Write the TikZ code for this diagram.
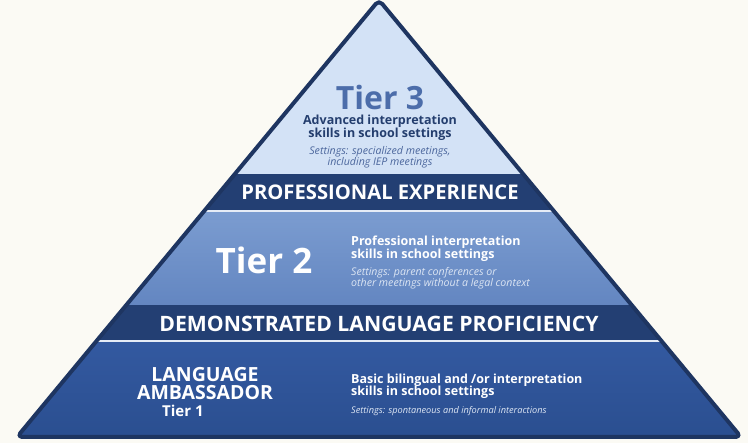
\documentclass[tikz,border=0pt]{standalone}
\usepackage{fontspec}
\setmainfont{Open Sans}
\usetikzlibrary{calc}
\definecolor{paper}{HTML}{FBFAF4}
\definecolor{rim}{HTML}{1E3561}
\definecolor{topFill}{HTML}{D3E2F6}
\definecolor{bandFill}{HTML}{233F73}
\definecolor{seam}{HTML}{E6ECF6}
\definecolor{midTop}{HTML}{7B9CD0}
\definecolor{midBot}{HTML}{6386C1}
\definecolor{lowTop}{HTML}{3359A0}
\definecolor{lowBot}{HTML}{2A4E8F}
\definecolor{titleBlue}{HTML}{4C6DAA}
\definecolor{navyText}{HTML}{243E6E}
\definecolor{noteBlue}{HTML}{4B669C}
\definecolor{softWhite}{HTML}{DCE5F3}
\tikzset{
  pyrEdge/.style={draw=rim, line width=4pt, line join=round, rounded corners=5pt},
  bandLbl/.style={text=white, font=\bfseries\fontsize{20.2}{20.2}\selectfont},
  tierLbl/.style={font=\bfseries\fontsize{32}{32}\selectfont},
  skillLbl/.style={font=\bfseries\fontsize{12.5}{12.5}\selectfont, inner sep=0pt},
  noteLbl/.style={font=\itshape\fontsize{10.6}{11}\selectfont, inner sep=0pt},
  oneLbl/.style={text=white, font=\bfseries\fontsize{19.5}{18}\selectfont, inner sep=0pt},
}
\newcommand{\PyrCorners}{%
  \coordinate (T) at (379,0);
  \coordinate (L) at (17,437);
  \coordinate (R) at (741,437);
}

\begin{document}
\begin{tikzpicture}[x=1pt, y=-1pt]
  \fill[paper] (0,0) rectangle (748,443);
  \useasboundingbox (0,0) rectangle (748,443);
  \PyrCorners

  % layers of the pyramid
  \begin{scope}
    \clip[rounded corners=5pt] (T)--(L)--(R)--cycle;
    \fill[topFill] (0,0) rectangle (748,174);
    \fill[bandFill] (0,174) rectangle (748,210);
    \fill[seam] (0,210) rectangle (748,212.5);
    \shade[top color=midTop, bottom color=midBot] (0,212.5) rectangle (748,305);
    \fill[bandFill] (0,305) rectangle (748,340);
    \fill[seam] (0,340) rectangle (748,342.5);
    \shade[top color=lowTop, bottom color=lowBot] (0,342.5) rectangle (748,443);
  \end{scope}
  \draw[pyrEdge] (T)--(L)--(R)--cycle;

  % tier 3
  \node[tierLbl, text=titleBlue] (t3Title) at (380,98) {Tier 3};
  \node[skillLbl, text=navyText, align=center] (t3Skills) at (380,128)
    {Advanced interpretation\\skills in school settings};
  \node[noteLbl, text=noteBlue, align=center] (t3Note) at (380,157.5)
    {Settings: specialized meetings,\\including IEP meetings};

  \node[bandLbl] (peBand) at (380,192) {PROFESSIONAL EXPERIENCE};

  % tier 2
  \node[tierLbl, text=white, font=\bfseries\fontsize{35}{35}\selectfont] (t2Title) at (264,260) {Tier 2};
  \node[skillLbl, text=white, align=left, anchor=west] (t2Skills) at (351,248.5)
    {Professional interpretation\\skills in school settings};
  \node[noteLbl, text=softWhite, align=left, anchor=west] (t2Note) at (351,278)
    {Settings: parent conferences or\\other meetings without a legal context};

  \node[bandLbl, font=\bfseries\fontsize{21.2}{21.2}\selectfont] (dlpBand) at (379,324)
    {DEMONSTRATED LANGUAGE PROFICIENCY};

  % tier 1
  \node[oneLbl, align=center] (t1Title) at (205,384) {LANGUAGE\\AMBASSADOR};
  \node[oneLbl, anchor=west, font=\bfseries\fontsize{15}{15}\selectfont] (t1Tier) at (162,410.5) {Tier 1};
  \node[skillLbl, text=white, align=left, anchor=west] (t1Skills) at (351,386.5)
    {Basic bilingual and /or interpretation\\skills in school settings};
  \node[noteLbl, text=softWhite, anchor=west, font=\itshape\fontsize{9.2}{9.2}\selectfont] (t1Note) at (351,411)
    {Settings: spontaneous and informal interactions};
\end{tikzpicture}
\end{document}
